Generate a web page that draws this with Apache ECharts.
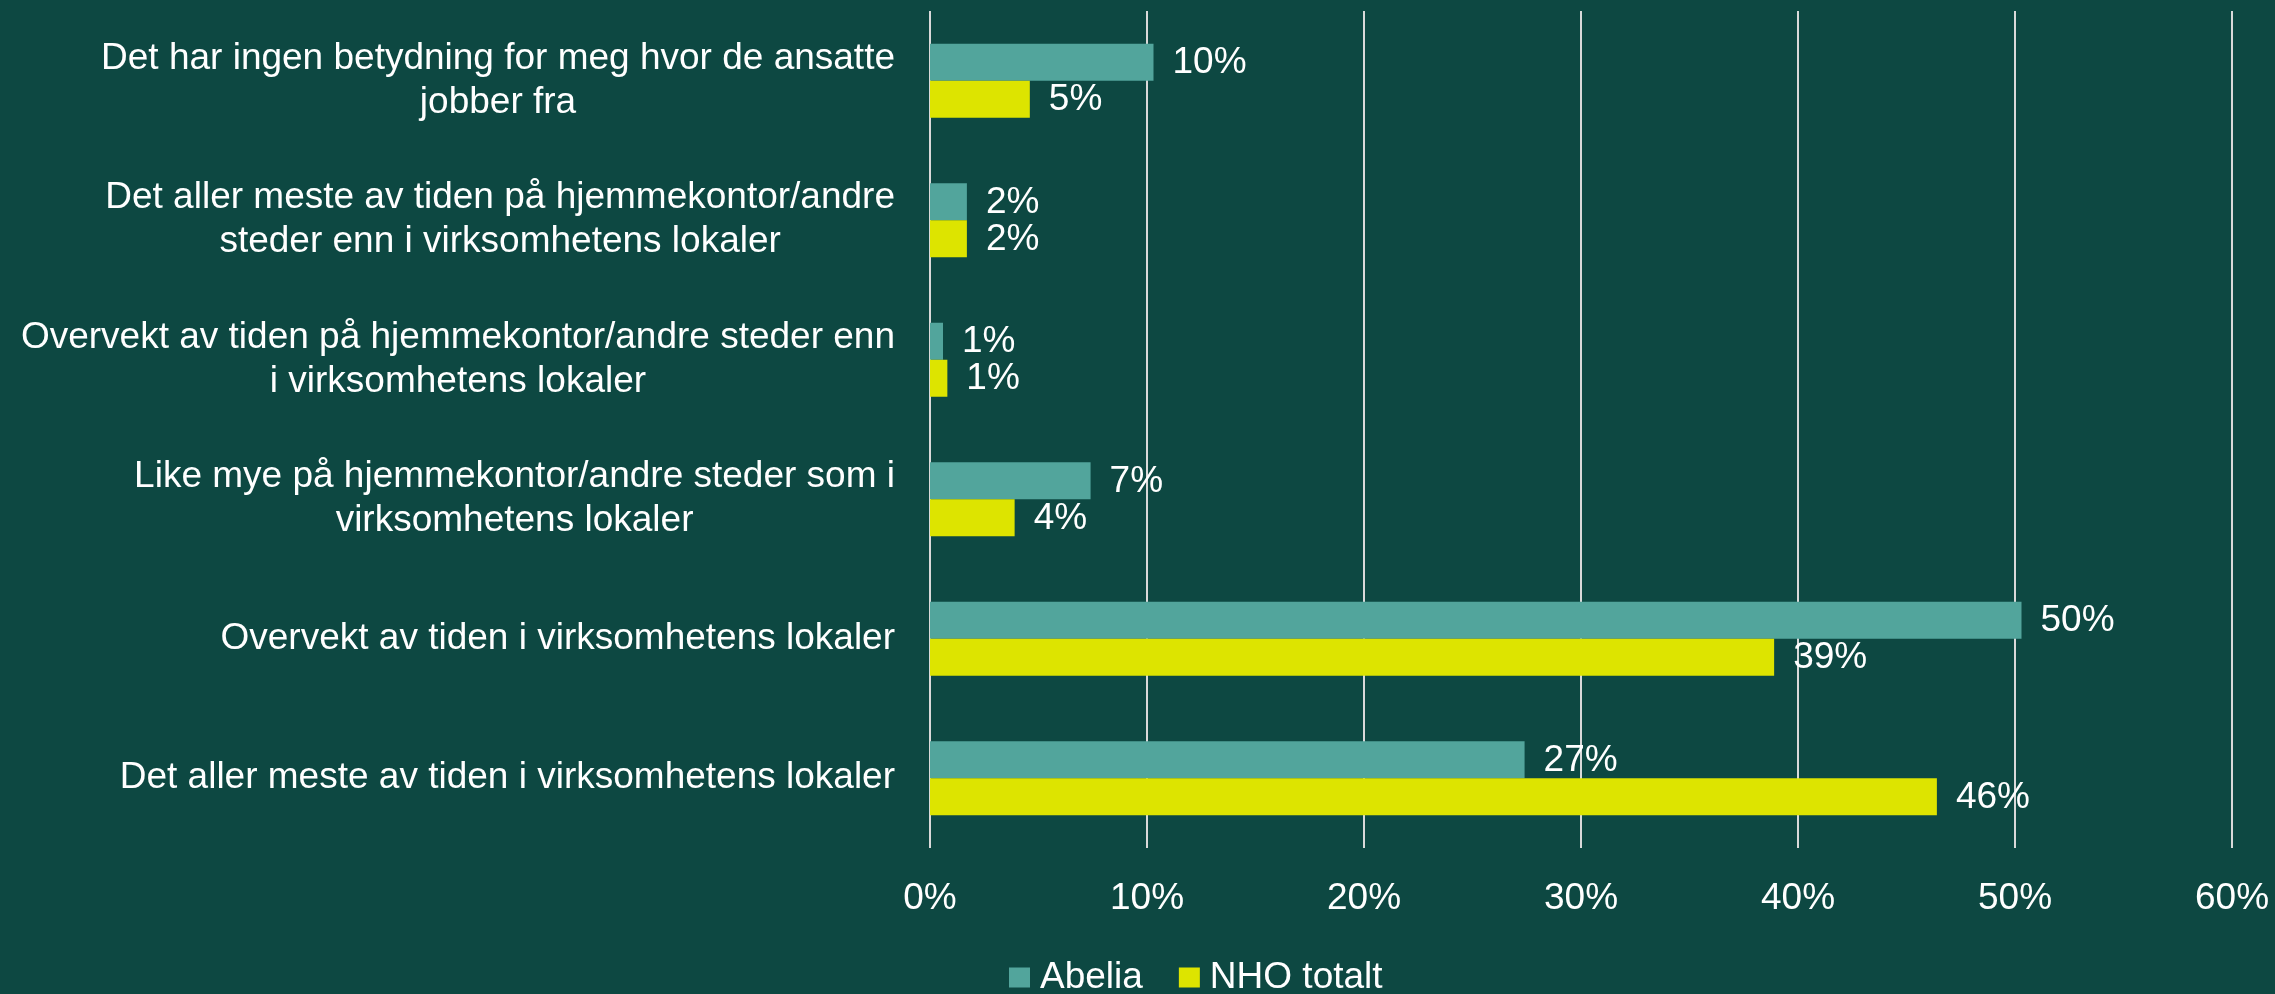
<!DOCTYPE html>
<html>
<head>
<meta charset="utf-8">
<script src="https://cdn.jsdelivr.net/npm/echarts@6/dist/echarts.min.js"></script>
<style>
  html, body { margin: 0; padding: 0; background: #0d4842; }
  #chart { width: 2275px; height: 994px; }
</style>
</head>
<body>
<div id="chart"></div>
<script>
const categories = [
  "Det har ingen betydning for meg hvor de ansatte\njobber fra",
  "Det aller meste av tiden på hjemmekontor/andre\nsteder enn i virksomhetens lokaler",
  "Overvekt av tiden på hjemmekontor/andre steder enn\ni virksomhetens lokaler",
  "Like mye på hjemmekontor/andre steder som i\nvirksomhetens lokaler",
  "Overvekt av tiden i virksomhetens lokaler",
  "Det aller meste av tiden i virksomhetens lokaler"
]
const abelia = [10.3, 1.7, 0.6, 7.4, 50.3, 27.4]
const nhoTotalt = [4.6, 1.7, 0.8, 3.9, 38.9, 46.4]
const seriesNames = ["Abelia", "NHO totalt"]

const font = "'Liberation Sans', Arial, sans-serif"
const white = "#ffffff"

const chart = echarts.init(document.getElementById("chart"))

const barLabel = {
  show: true,
  position: "right",
  distance: 19,
  offset: [0, 1],
  color: white,
  fontSize: 37,
  fontFamily: font,
  formatter: function (p) {
    return Math.round(p.value) + "%"
  }
}

const option = {
  backgroundColor: "#0d4842",
  animation: false,
  textStyle: { fontFamily: font },
  legend: {
    data: seriesNames,
    left: 1009,
    top: 959,
    padding: 0,
    icon: "rect",
    itemWidth: 21,
    itemHeight: 20,
    itemGap: 36,
    textStyle: {
      color: white,
      fontSize: 37,
      fontFamily: font,
      padding: [0, 0, 0, 5]
    }
  },
  grid: {
    left: 930,
    right: 43,
    top: 11,
    bottom: 146,
    containLabel: false
  },
  xAxis: {
    type: "value",
    min: 0,
    max: 60,
    interval: 10,
    axisLine: { show: false },
    axisTick: { show: false },
    axisLabel: {
      color: white,
      fontSize: 37,
      lineHeight: 43,
      fontFamily: font,
      margin: 29,
      formatter: "{value}%"
    },
    splitLine: {
      show: true,
      lineStyle: { color: "#d9d9d9", width: 2 }
    }
  },
  yAxis: {
    type: "category",
    inverse: true,
    data: categories,
    axisLine: { show: false },
    axisTick: { show: false },
    axisLabel: {
      margin: 35,
      align: "right",
      formatter: function (value) {
        return value.split("\n").map(function (l) { return "{c|" + l + "}" }).join("\n")
      },
      rich: {
        c: {
          align: "center",
          color: white,
          fontSize: 37,
          lineHeight: 44,
          fontFamily: font
        }
      }
    }
  },
  series: [
    {
      name: seriesNames[0],
      type: "bar",
      data: abelia,
      barWidth: 37,
      barGap: "0%",
      itemStyle: { color: "#52a59c" },
      label: barLabel
    },
    {
      name: seriesNames[1],
      type: "bar",
      data: nhoTotalt,
      barWidth: 37,
      barGap: "0%",
      itemStyle: { color: "#dde400" },
      label: barLabel
    }
  ]
}

chart.setOption(option)
</script>
</body>
</html>
